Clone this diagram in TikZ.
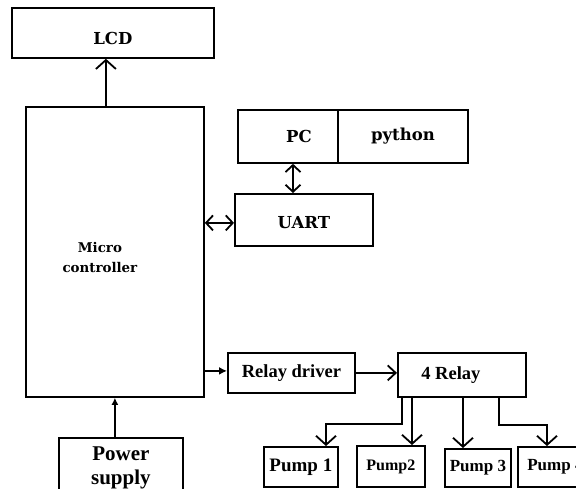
\documentclass[tikz,border=0pt]{standalone}
\usepackage{fontspec}
\newfontfamily\tnr{Liberation Serif}
\newfontfamily\djs{DejaVu Serif}
\usetikzlibrary{arrows.meta,calc}
\begin{document}
\begin{tikzpicture}[x=1pt,y=-1pt,
  box/.style={draw,line width=1.8pt,inner sep=0pt,anchor=north west,fill=white},
  lm/.style={font=\djs\bfseries\fontsize{16.5}{18}\selectfont},
  lmsmall/.style={font=\djs\bfseries\fontsize{13.4}{20}\selectfont},
  tr/.style={font=\tnr\bfseries\fontsize{18.5}{20}\selectfont},
  trp/.style={font=\tnr\bfseries\fontsize{#1}{20}\selectfont},
  ps/.style={font=\tnr\bfseries\fontsize{21}{24}\selectfont},
  ln/.style={line width=1.8pt},
  barb/.style={ln,-{Straight Barb[length=9pt,width=20pt,line width=1.8pt]}},
  dbl/.style={ln,{Straight Barb[length=7pt,width=15pt,line width=1.8pt]}-{Straight Barb[length=7pt,width=15pt,line width=1.8pt]}},
  fil/.style={ln,-{Latex[length=8pt,width=8pt]}}
]
\clip (0,0) rectangle (576,488);
\fill[white] (0,0) rectangle (576,488);

\node[box,lm,minimum width=202,minimum height=50] (lcd) at (11,7) {\raisebox{-12pt}[0pt][0pt]{LCD}};
\node[box,minimum width=178,minimum height=290,
  label={[lmsmall,align=center,xshift=-15pt,yshift=-6pt]center:Micro\\controller}] (mc) at (25,106) {};
\node[box,lm,minimum width=100,minimum height=53] (pc) at (237,109) {\hspace*{22pt}PC};
\node[box,lm,minimum width=130,minimum height=53] (py) at (337,109) {python};
\node[box,lm,minimum width=138,minimum height=52] (uart) at (234,193) {\raisebox{-9pt}[0pt][0pt]{UART}};
\node[box,tr,minimum width=127,minimum height=40] (rd) at (227,352) {Relay driver};
\node[box,tr,minimum width=128,minimum height=44] (relay) at (397,352) {4 Relay\hspace*{22pt}};
\node[box,trp=19,minimum width=74,minimum height=40] (p1) at (263,446) {Pump 1};
\node[box,trp=16,minimum width=68,minimum height=41] (p2) at (356,445) {Pump2};
\node[box,trp=17,minimum width=66,minimum height=38] (p3) at (444,448) {Pump 3};
\node[box,trp=17,minimum width=75,minimum height=40] (p4) at (517,446) {Pump 4};
\node[box,ps,align=center,minimum width=124,minimum height=60] (pw) at (58,437) {Power\\supply};

% MC -> LCD
\coordinate (a1) at ($(mc.north)+(-9,0)$);
\draw[barb] (a1) -- (a1 |- lcd.south);
% PC <-> UART
\coordinate (a2) at ($(uart.north west)+(59,0)$);
\draw[dbl] (a2) -- (a2 |- pc.south);
% MC <-> UART
\coordinate (a3) at ($(uart.west)+(0,3)$);
\draw[dbl] (a3 -| mc.east) -- (a3);
% MC -> Relay driver
\coordinate (a4) at ($(rd.west)+(0,-2)$);
\draw[fil] (a4 -| mc.east) -- (a4);
% Relay driver -> 4 Relay
\draw[ln,-{Straight Barb[length=8pt,width=15pt,line width=1.8pt]}] (rd.east) -- (rd.east -| relay.west);
% Power -> MC
\draw[ln,-{Latex[length=7pt,width=7pt]}] (pw.north -| mc.south) -- (mc.south);
% Relay -> pumps
\coordinate (r1) at ($(relay.south west)+(5,0)$);
\coordinate (r2) at ($(relay.south west)+(15,0)$);
\coordinate (r3) at ($(relay.south west)+(66,0)$);
\coordinate (r4) at ($(relay.south west)+(102,0)$);
\coordinate (t1) at ($(p1.north west)+(63,0)$);
\coordinate (t4) at ($(p4.north west)+(30,0)$);
\draw[barb] (r1) -- ++(0,26) -| (t1);
\draw[barb] (r2) -- (r2 |- p2.north);
\draw[barb] (r3) -- (r3 |- p3.north);
\draw[barb] (r4) -- ++(0,27) -| (t4);
\end{tikzpicture}
\end{document}
